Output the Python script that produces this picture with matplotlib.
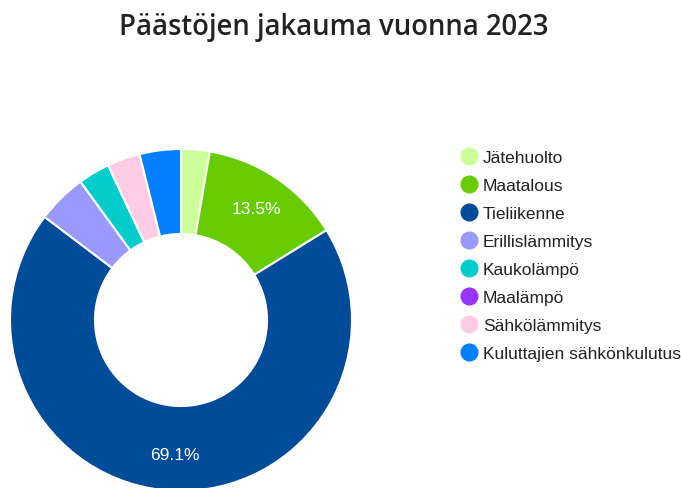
import matplotlib
matplotlib.use("Agg")
import matplotlib.pyplot as plt
from matplotlib.lines import Line2D

categories = ["Jätehuolto", "Maatalous", "Tieliikenne", "Erillislämmitys",
              "Kaukolämpö", "Maalämpö", "Sähkölämmitys", "Kuluttajien sähkönkulutus"]
values = [2.7, 13.5, 69.1, 4.7, 3.0, 0.0, 3.1, 3.9]
colors = ["#ccff99", "#66cc00", "#004c99", "#9999ff",
          "#00cccc", "#9933ff", "#ffcce5", "#0080ff"]
title = "Päästöjen jakauma vuonna 2023"

W, H = 681, 489
fig = plt.figure(figsize=(W / 100, H / 100), dpi=100)
fig.patch.set_facecolor("white")

cx, cy, R = 181, 321, 171
ax = fig.add_axes([(cx - R) / W, (H - cy - R) / H, 2 * R / W, 2 * R / H])

def fmt(p):
    return f"{p:.1f}%" if p > 10 else ""

wedges, texts, autotexts = ax.pie(
    values, colors=colors, startangle=90, counterclock=False, radius=1,
    wedgeprops=dict(width=0.497, edgecolor="white", linewidth=1.5),
    autopct=fmt, pctdistance=0.79,
    textprops=dict(color="white", fontsize=12.5, family="Liberation Sans"))
for w in wedges:
    w.set_clip_on(False)
ax.set_xlim(-1, 1)
ax.set_ylim(-1, 1)
ax.set_aspect("equal")
ax.axis("off")

handles = [Line2D([0], [0], marker="o", linestyle="none", markersize=12,
                  markerfacecolor=c, markeredgecolor=c) for c in colors]
fig.legend(handles, categories, loc="upper left",
           bbox_to_anchor=(461 / W, 1 - 151 / H), frameon=False,
           prop=dict(family="Liberation Sans", size=12.5), labelcolor="#222222",
           handlelength=0.9, handletextpad=0.35, labelspacing=0.74,
           borderaxespad=0, borderpad=0)

fig.text(334 / W, 1 - 27 / H, title, ha="center", va="center",
         fontsize=19.8, family="Open Sans", fontweight="semibold", color="#222222")

fig.savefig("out.png", dpi=100)
